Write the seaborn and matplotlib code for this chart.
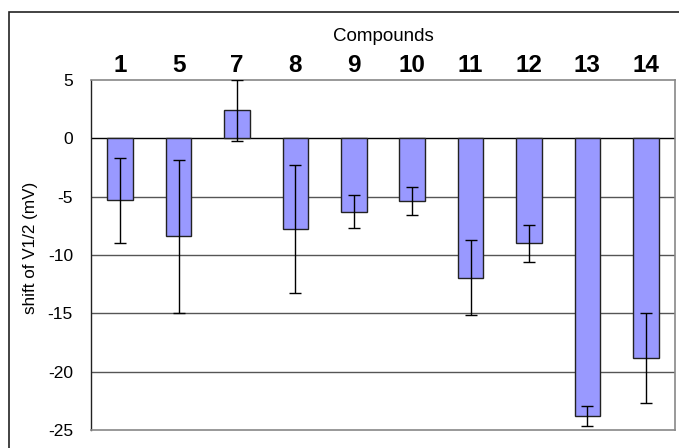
import matplotlib
matplotlib.use("Agg")
import matplotlib.pyplot as plt
import seaborn as sns
import pandas as pd
from matplotlib.patches import Rectangle

compounds = ["1", "5", "7", "8", "9", "10", "11", "12", "13", "14"]
shift = [-5.3, -8.4, 2.4, -7.8, -6.3, -5.4, -11.95, -9.0, -23.8, -18.85]
err = [3.65, 6.55, 2.6, 5.5, 1.4, 1.2, 3.2, 1.6, 0.85, 3.85]
yticks = [5, 0, -5, -10, -15, -20, -25]

sns.set_theme(style="white")
plt.rcParams['font.family'] = ['Liberation Sans', 'DejaVu Sans']
plt.rcParams['text.color'] = 'black'
plt.rcParams['axes.labelcolor'] = 'black'
plt.rcParams['xtick.color'] = 'black'
plt.rcParams['ytick.color'] = 'black'

W, H = 679, 448
fig = plt.figure(figsize=(W / 100, H / 100), dpi=100)
ax = fig.add_axes([91 / W, 1 - 430 / H, (675 - 91) / W, (430 - 80) / H])

df = pd.DataFrame({"compound": compounds, "shift": shift})
sns.barplot(data=df, x="compound", y="shift", color="#9999FF", saturation=1,
            width=0.44, edgecolor="#222222", linewidth=1.0, ax=ax, errorbar=None,
            zorder=3)
ax.errorbar(range(len(compounds)), shift, yerr=err, fmt="none", ecolor="black",
            elinewidth=1.0, capsize=4, capthick=1.0, zorder=4)

ax.set_ylim(-25, 5)
ax.set_xlim(-0.5, len(compounds) - 0.5)
ax.set_yticks(yticks)
ax.set_yticklabels([str(v) for v in yticks], fontsize=12.5, color="black")
for v in yticks:
    if v == 0:
        ax.axhline(v, color="black", lw=1.0, zorder=2)
    elif v not in (5, -25):
        ax.axhline(v, color="#555555", lw=1.0, zorder=2)

ax.xaxis.tick_top()
ax.xaxis.set_label_position("top")
ax.set_xlabel("Compounds", fontsize=13.5, color="black")
ax.xaxis.set_label_coords(0.5, 1.125)
ax.xaxis.label.set_va("center")
ax.set_ylabel("shift of V1/2 (mV)", fontsize=12.3, color="black")
ax.yaxis.set_label_coords(-0.103, 0.52)
ax.yaxis.label.set_va("center")
for lab in ax.get_xticklabels():
    lab.set_fontweight("bold")
    lab.set_fontsize(17.5)
    lab.set_color("black")
ax.tick_params(axis="x", length=0, pad=2.5)
ax.tick_params(axis="y", length=0, pad=13)

for s in ["top", "right", "bottom"]:
    ax.spines[s].set_color("#888888")
    ax.spines[s].set_linewidth(1.2)
ax.spines["left"].set_color("#222222")
ax.spines["left"].set_linewidth(1.0)

fig.patches.append(Rectangle((9 / W, -0.1), 1.2, 1 - 12 / H + 0.1,
                             transform=fig.transFigure, fill=False,
                             edgecolor="#222222", linewidth=1.2))

fig.savefig("out.png", dpi=100)
